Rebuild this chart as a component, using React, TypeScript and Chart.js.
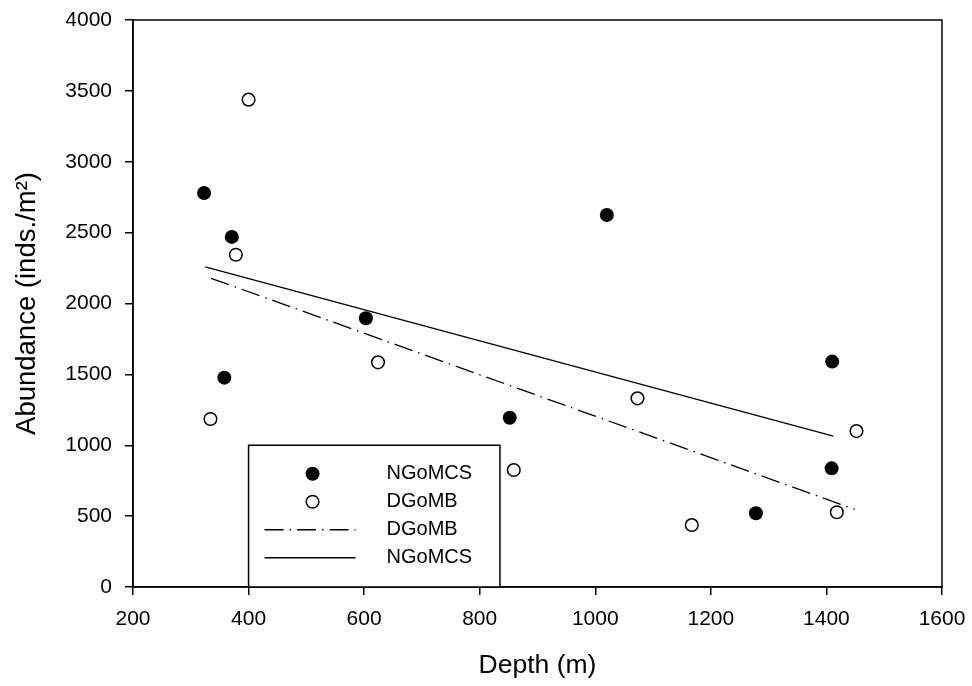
import React, { useEffect, useRef } from 'react';
import { Chart, registerables } from 'chart.js';

Chart.register(...registerables);

// ---- data ----
const ngomcsDepth = [323, 358, 371, 603, 852, 1020, 1278, 1409, 1410];
const ngomcsAbund = [2780, 1477, 2470, 1896, 1194, 2624, 520, 837, 1590];
const dgombDepth = [334, 378, 400, 624, 859, 1073, 1167, 1418, 1452];
const dgombAbund = [1185, 2344, 3438, 1585, 825, 1331, 437, 527, 1100];

// regression line end points
const ngomcsFitDepth = [325, 1412];
const ngomcsFitAbund = [2258, 1065];
const dgombFitDepth = [335, 1449];
const dgombFitAbund = [2178, 548];

const xMin = 200;
const xMax = 1600;
const xStep = 200;
const yMin = 0;
const yMax = 4000;
const yStep = 500;

const xTitle = 'Depth (m)';
const yTitle = 'Abundance (inds./m\u00B2)';
const legendLabels = ['NGoMCS', 'DGoMB', 'DGoMB', 'NGoMCS'];

const FONT = "'Liberation Sans', Arial, sans-serif";
const DASH = [19, 6, 1.5, 6];

const toPts = (xs: number[], ys: number[]) => xs.map((x, i) => ({ x, y: ys[i] }));

const framePlugin = {
  id: 'frame',
  afterDatasetsDraw(chart: any) {
    const { ctx, chartArea: a } = chart;
    ctx.save();
    ctx.strokeStyle = '#000';
    ctx.lineWidth = 1.5;
    ctx.strokeRect(a.left, a.top, a.right - a.left, a.bottom - a.top);
    ctx.restore();
  },
};

const legendPlugin = {
  id: 'customLegend',
  afterDraw(chart: any) {
    const { ctx, scales } = chart;
    const xs = scales.x;
    const ys = scales.y;
    const left = xs.getPixelForValue(400);
    const right = xs.getPixelForValue(835);
    const top = ys.getPixelForValue(1000);
    const bottom = ys.getPixelForValue(0);
    ctx.save();
    ctx.fillStyle = '#fff';
    ctx.fillRect(left, top, right - left, bottom - top);
    ctx.strokeStyle = '#000';
    ctx.lineWidth = 1.5;
    ctx.strokeRect(left, top, right - left, bottom - top);

    const rowY = (i: number) => top + 28.5 + i * 28;
    const mx = left + 64;
    // filled marker
    ctx.beginPath();
    ctx.arc(mx, rowY(0), 7, 0, Math.PI * 2);
    ctx.fillStyle = '#000';
    ctx.fill();
    // hollow marker
    ctx.beginPath();
    ctx.arc(mx, rowY(1), 6.3, 0, Math.PI * 2);
    ctx.fillStyle = '#fff';
    ctx.fill();
    ctx.lineWidth = 1.5;
    ctx.strokeStyle = '#000';
    ctx.stroke();
    // dashed line
    ctx.lineWidth = 1.3;
    ctx.setLineDash(DASH);
    ctx.beginPath();
    ctx.moveTo(left + 16, rowY(2));
    ctx.lineTo(left + 107, rowY(2));
    ctx.stroke();
    ctx.setLineDash([]);
    // solid line
    ctx.beginPath();
    ctx.moveTo(left + 16, rowY(3));
    ctx.lineTo(left + 107, rowY(3));
    ctx.stroke();

    ctx.fillStyle = '#000';
    ctx.font = `20px ${FONT}`;
    ctx.textAlign = 'left';
    ctx.textBaseline = 'middle';
    legendLabels.forEach((t, i) => ctx.fillText(t, left + 138, rowY(i)));
    ctx.restore();
  },
};

export default function App() {
  const ref = useRef<HTMLCanvasElement | null>(null);

  useEffect(() => {
    if (!ref.current) return;
    const chart = new Chart(ref.current, {
      type: 'scatter',
      data: {
        datasets: [
          {
            label: 'NGoMCS',
            data: toPts(ngomcsDepth, ngomcsAbund),
            pointRadius: 7,
            pointBackgroundColor: '#000',
            pointBorderColor: '#000',
            pointBorderWidth: 0,
            showLine: false,
          },
          {
            label: 'DGoMB',
            data: toPts(dgombDepth, dgombAbund),
            pointRadius: 6.3,
            pointBackgroundColor: '#fff',
            pointBorderColor: '#000',
            pointBorderWidth: 1.5,
            showLine: false,
          },
          {
            label: 'DGoMB fit',
            data: toPts(dgombFitDepth, dgombFitAbund),
            showLine: true,
            pointRadius: 0,
            borderColor: '#000',
            borderWidth: 1.3,
            borderDash: DASH,
            order: 5,
          },
          {
            label: 'NGoMCS fit',
            data: toPts(ngomcsFitDepth, ngomcsFitAbund),
            showLine: true,
            pointRadius: 0,
            borderColor: '#000',
            borderWidth: 1.3,
            order: 5,
          },
        ],
      },
      options: {
        animation: false,
        responsive: false,
        layout: { padding: { top: 20, right: 30, left: 0, bottom: 0 } },
        plugins: {
          legend: { display: false },
          tooltip: { enabled: false },
        },
        scales: {
          x: {
            type: 'linear',
            min: xMin,
            max: xMax,
            ticks: {
              stepSize: xStep,
              color: '#000',
              padding: 12,
              font: { family: FONT, size: 21 },
              callback: (v: any) => String(v),
            },
            grid: {
              drawOnChartArea: false,
              drawTicks: true,
              tickLength: 8,
              color: '#000',
              lineWidth: 1.5,
            },
            border: { display: true, color: '#000', width: 1.5 },
            title: {
              display: true,
              text: xTitle,
              color: '#000',
              font: { family: FONT, size: 26.5 },
              padding: { top: 0, bottom: 4 },
            },
            afterFit: (s: any) => {
              s.height = 99;
              s.paddingLeft = 0;
              s.paddingRight = 0;
            },
          },
          y: {
            type: 'linear',
            min: yMin,
            max: yMax,
            ticks: {
              stepSize: yStep,
              color: '#000',
              padding: 13,
              font: { family: FONT, size: 21 },
              callback: (v: any) => String(v),
            },
            grid: {
              drawOnChartArea: false,
              drawTicks: true,
              tickLength: 8,
              color: '#000',
              lineWidth: 1.5,
            },
            border: { display: true, color: '#000', width: 1.5 },
            title: {
              display: true,
              text: yTitle,
              color: '#000',
              font: { family: FONT, size: 27.5 },
              padding: { top: 11, bottom: 0 },
            },
            afterFit: (s: any) => {
              s.width = 133;
              s.paddingTop = 0;
              s.paddingBottom = 0;
            },
          },
        },
      },
      plugins: [framePlugin, legendPlugin],
    });
    return () => chart.destroy();
  }, []);

  return (
    <div style={{ position: 'absolute', left: 0, top: 0, width: 972, height: 686, background: '#fff' }}>
      <canvas ref={ref} width={972} height={686} style={{ display: 'block' }} />
    </div>
  );
}
